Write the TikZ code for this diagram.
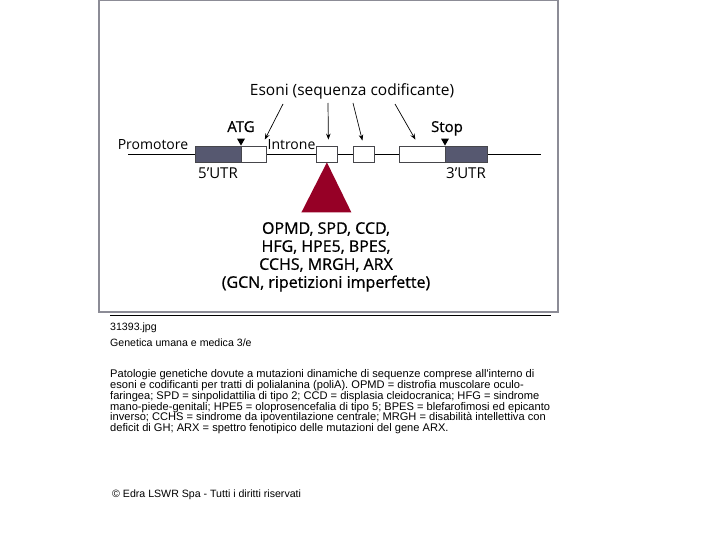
\documentclass[tikz,border=0pt]{standalone}
\usepackage{fontspec}
\setmainfont{Open Sans}
\newfontfamily\semifont{Open Sans}[FakeBold=0.7]
\newfontfamily\capfont{Liberation Sans}
\usetikzlibrary{arrows.meta,positioning}
\definecolor{utrgray}{RGB}{86,88,112}
\definecolor{mutred}{RGB}{150,0,38}
\definecolor{framegray}{RGB}{140,140,150}
\definecolor{boxline}{RGB}{70,70,75}

\begin{document}
\begin{tikzpicture}[x=1pt, y=-1pt,
  every node/.style={font=\fontsize{14}{18}\selectfont, inner sep=0pt},
  genebox/.style={draw=boxline, line width=0.8pt, fill=white, minimum height=16pt, anchor=west},
  utrbox/.style={genebox, fill=utrgray},
  pointer/.style={-{Stealth[length=6pt,width=4.5pt]}, line width=0.7pt},
  marklabel/.style={anchor=base, font=\semifont\fontsize{15}{18}\selectfont},
  caption/.style={font=\capfont\fontsize{10.6}{10.8}\selectfont, anchor=base west, align=left}]
  \useasboundingbox (0,0) rectangle (720,540);
  % frame
  \draw[framegray, line width=2pt] (99,0) rectangle (558,312);
  \draw[line width=1pt] (110,315.5) -- (551,315.5);
  % gene line
  \coordinate (gstart) at (128,154);
  \coordinate (gend) at (541,154);
  \draw[line width=0.8pt] (gstart) -- (gend);
  % exons and UTRs
  \node[utrbox, minimum width=46pt] (utr5) at (195,154) {};
  \node[genebox, minimum width=25pt] (ex1) at (241,154) {};
  \node[genebox, minimum width=21pt] (ex2) at (316,154) {};
  \node[genebox, minimum width=21pt] (ex3) at (353,154) {};
  \node[genebox, minimum width=46pt] (ex4) at (399,154) {};
  \node[utrbox, minimum width=42pt] (utr3) at (445,154) {};
  % start / stop marks
  \fill (ex1.north west) -- ++(-4,-7) -- ++(8,0) -- cycle;
  \fill (utr3.north west) -- ++(-4,-7) -- ++(8,0) -- cycle;
  % labels
  \node[anchor=base] (promo) at (153,150) {Promotore};
  \node[anchor=base] (intr) at (291.5,150) {Introne};
  \node[marklabel] (atg) at (241,132) {ATG};
  \node[marklabel] (stop) at (447,132) {Stop};
  \node[anchor=base, font=\fontsize{15}{18}\selectfont] (l5utr) at (218,179) {5'UTR};
  \node[anchor=base, font=\fontsize{15}{18}\selectfont] (l3utr) at (466,179) {3'UTR};
  \node[anchor=base, font=\fontsize{15.5}{18}\selectfont] (esoni) at (352,96) {Esoni (sequenza codificante)};
  % arrows to exons
  \coordinate (a1) at (283,104);
  \coordinate (a2) at (328,103);
  \coordinate (a3) at (353,103);
  \coordinate (a4) at (395,104);
  \draw[pointer] (a1) -- ([xshift=-2pt,yshift=6pt]ex1.north east);
  \draw[pointer] (a2) -- ([xshift=1.5pt,yshift=6pt]ex2.north);
  \draw[pointer] (a3) -- ([xshift=-1.5pt,yshift=5pt]ex3.north);
  \draw[pointer] (a4) -- ([xshift=-7pt,yshift=6pt]ex4.north);
  % expansion site
  \fill[mutred] (ex2.south) -- ++(-25.5,50) -- ++(50,0) -- cycle;
  \node[anchor=north, align=center, font=\semifont\fontsize{16}{18}\selectfont] (disease) at (326,222)
    {OPMD, SPD, CCD,\\HFG, HPE5, BPES,\\CCHS, MRGH, ARX\\(GCN, ripetizioni imperfette)};
  % caption
  \node[caption] (file) at (110,330) {31393.jpg};
  \node[caption] (book) at (110,346.5) {Genetica umana e medica 3/e};
  \node[caption, anchor=north west, font=\capfont\fontsize{11.1}{10.8}\selectfont] (legend) at (110,369.5)
    {Patologie genetiche dovute a mutazioni dinamiche di sequenze comprese all'interno di\\
     esoni e codificanti per tratti di polialanina (poliA). OPMD = distrofia muscolare oculo-\\
     faringea; SPD = sinpolidattilia di tipo 2; CCD = displasia cleidocranica; HFG = sindrome\\
     mano-piede-genitali; HPE5 = oloprosencefalia di tipo 5; BPES = blefarofimosi ed epicanto\\
     inverso; CCHS = sindrome da ipoventilazione centrale; MRGH = disabilità intellettiva con\\
     deficit di GH; ARX = spettro fenotipico delle mutazioni del gene ARX.};
  \node[caption] (copy) at (112,497) {© Edra LSWR Spa - Tutti i diritti riservati};
\end{tikzpicture}
\end{document}
